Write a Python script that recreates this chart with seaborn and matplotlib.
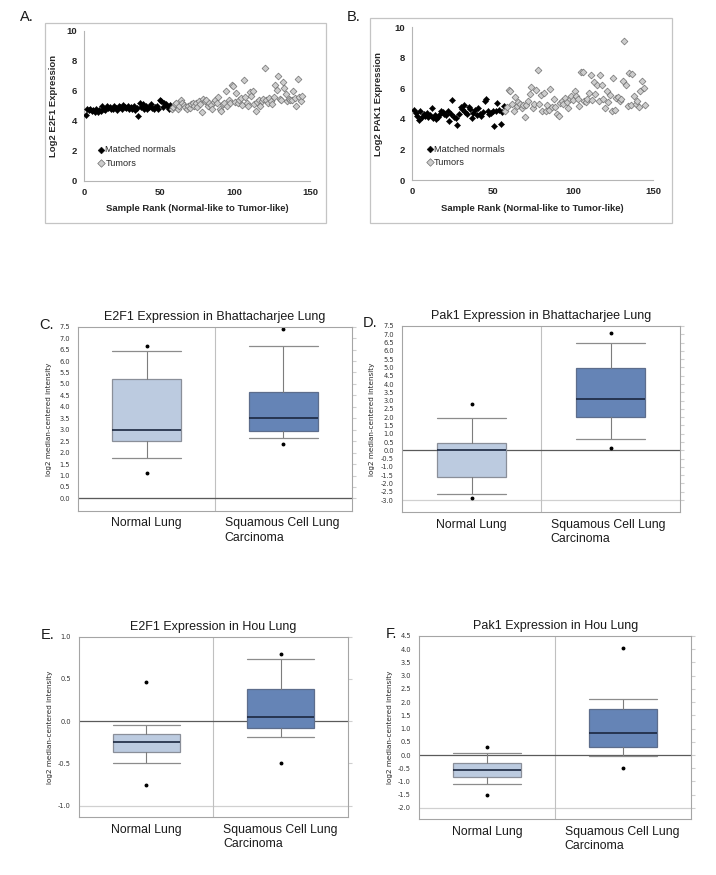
import numpy as np
import seaborn as sns
import matplotlib.pyplot as plt
from matplotlib.patches import Rectangle

# ---- panels A / B : sample rank scatter (log2 expression) ----
a_normal = [4.4, 4.75, 4.7, 4.8, 4.65, 4.7, 4.6, 4.75, 4.55, 4.7,
            4.65, 4.95, 4.8, 4.7, 5.0, 4.85, 4.9, 4.75, 4.8, 4.95,
            4.85, 4.7, 4.95, 4.9, 4.8, 5.05, 4.9, 4.85, 4.95, 4.75,
            4.9, 4.8, 5.0, 4.7, 4.85, 4.3, 5.15, 4.9, 5.1, 4.75,
            4.95, 4.8, 4.9, 5.1, 4.85, 4.75, 4.9, 5.0, 4.8, 5.4,
            5.3, 4.9, 5.2, 5.1, 4.95, 4.8, 5.05]
a_tumor = [4.75, 4.9, 5.1, 5.2, 4.8, 5.0, 5.4, 5.2, 5.05, 4.9,
           4.8, 5.0, 4.85, 5.1, 5.15, 4.95, 5.2, 4.9, 5.3, 5.1,
           4.6, 5.45, 5.3, 5.35, 5.0, 5.2, 5.05, 4.75, 5.25, 5.4,
           5.15, 5.6, 4.8, 4.65, 5.1, 5.2, 5.95, 5.0, 5.35, 5.15,
           6.4, 6.3, 5.25, 5.85, 5.2, 5.35, 5.5, 5.05, 6.7, 5.6,
           5.2, 5.0, 5.9, 5.65, 6.0, 5.1, 4.65, 5.25, 5.4, 5.0,
           5.3, 5.45, 7.5, 5.35, 5.2, 5.5, 5.3, 5.1, 5.6, 6.4,
           6.05, 7.0, 5.45, 5.35, 6.55, 6.2, 5.8, 5.3, 5.45, 5.4,
           5.35, 6.0, 5.5, 5.0, 6.75, 5.55, 5.3, 5.65]
b_normal = [4.6, 4.4, 4.2, 3.95, 4.5, 4.1, 4.3, 4.2, 4.4, 4.15,
            4.25, 4.7, 4.05, 4.25, 4.0, 4.1, 4.35, 4.55, 4.45, 4.3,
            4.25, 4.5, 3.85, 4.35, 5.25, 4.1, 4.05, 3.6, 4.3, 4.8,
            4.65, 4.9, 4.45, 4.3, 4.75, 4.65, 4.05, 4.4, 4.6, 4.25,
            4.7, 4.3, 4.2, 4.45, 5.2, 5.3, 4.55, 4.35, 4.4, 4.5,
            3.55, 4.5, 5.05, 4.6, 3.65, 4.45, 4.85]
b_tumor = [4.55, 4.8, 5.9, 5.8, 5.0, 4.5, 5.45, 4.85, 5.1, 4.95,
           4.7, 4.9, 4.1, 4.9, 5.2, 5.6, 6.1, 4.7, 5.0, 5.9,
           7.2, 4.95, 5.55, 4.5, 5.7, 4.55, 4.9, 4.6, 5.95, 4.75,
           5.3, 4.8, 4.35, 4.2, 5.05, 5.2, 4.95, 5.4, 5.1, 4.7,
           5.3, 5.5, 5.25, 5.8, 5.5, 5.3, 4.85, 7.1, 7.05, 5.2,
           5.1, 5.3, 5.7, 6.85, 5.25, 6.45, 5.6, 6.25, 5.2, 6.9,
           6.25, 5.3, 4.7, 5.8, 5.1, 5.55, 4.5, 6.7, 4.6, 5.4,
           5.45, 5.2, 5.3, 6.5, 9.1, 6.2, 4.85, 7.0, 4.9, 6.95,
           5.5, 4.95, 5.2, 4.8, 5.85, 6.5, 6.05, 4.9]

# ---- panels C-F : box stats [whisker low, q1, median, q3, whisker high, min, max] ----
box_groups = ['Normal Lung', 'Squamous Cell Lung\nCarcinoma']
c_normal = [1.75, 2.5, 3.0, 5.2, 6.45, 1.1, 6.65]
c_tumor = [2.65, 2.93, 3.5, 4.63, 6.67, 2.37, 7.4]
d_normal = [-2.65, -1.6, 0.0, 0.45, 1.93, -2.9, 2.8]
d_tumor = [0.7, 2.02, 3.12, 4.95, 6.48, 0.12, 7.05]
e_normal = [-0.49, -0.37, -0.25, -0.15, -0.05, -0.75, 0.46]
e_tumor = [-0.19, -0.08, 0.05, 0.38, 0.74, -0.49, 0.8]
f_normal = [-1.08, -0.82, -0.57, -0.3, 0.08, -1.52, 0.32]
f_tumor = [-0.02, 0.3, 0.85, 1.73, 2.12, -0.48, 4.05]

sns.set_style('white')
plt.rcParams['font.family'] = ['Liberation Sans', 'DejaVu Sans']
plt.rcParams['axes.unicode_minus'] = False

W, H = 716, 875
fig = plt.figure(figsize=(W / 100, H / 100), dpi=100)


def rect(x0, y0, x1, y1):
    return [x0 / W, 1 - y1 / H, (x1 - x0) / W, (y1 - y0) / H]


def rank_panel(box, frame, normal, tumor, ylabel, ylab_x):
    ax = fig.add_axes(rect(*box))
    fx0, fy0, fx1, fy1 = frame
    fig.add_artist(Rectangle((fx0 / W, 1 - fy1 / H), (fx1 - fx0) / W, (fy1 - fy0) / H,
                             transform=fig.transFigure, fill=False,
                             edgecolor='#c4c4c4', lw=0.9))
    n_rank = np.arange(1, len(normal) + 1)
    t_rank = np.arange(len(normal) + 1, len(normal) + len(tumor) + 1)
    sns.scatterplot(x=n_rank, y=normal, ax=ax, marker='D', s=10, color='black',
                    edgecolor='black', linewidth=0.3, label='Matched normals', zorder=3)
    sns.scatterplot(x=t_rank, y=tumor, ax=ax, marker='D', s=12, color='#cdcdcd',
                    edgecolor='#707070', linewidth=0.5, label='Tumors', zorder=3)
    ax.set_xlim(0, 150)
    ax.set_ylim(0, 10)
    ax.set_xticks([0, 50, 100, 150])
    ax.set_yticks([0, 2, 4, 6, 8, 10])
    ax.tick_params(labelsize=6.8, length=3, color='#b5b5b5', width=0.8, pad=2)
    for lab in ax.get_xticklabels() + ax.get_yticklabels():
        lab.set_fontweight('bold')
    for s in ['top', 'right']:
        ax.spines[s].set_visible(False)
    for s in ['left', 'bottom']:
        ax.spines[s].set_color('#b5b5b5')
        ax.spines[s].set_linewidth(0.8)
    ax.set_xlabel('Sample Rank (Normal-like to Tumor-like)', fontsize=6.8, fontweight='bold')
    ax.set_ylabel(ylabel, fontsize=6.8, fontweight='bold')
    ax.xaxis.set_label_coords(0.5, -0.155)
    ax.yaxis.set_label_coords(ylab_x, 0.5)
    ax.legend(loc='lower left', bbox_to_anchor=(0.035, 0.045), frameon=False,
              fontsize=6.6, handlelength=0.6, handletextpad=0.15,
              labelspacing=0.45, borderpad=0.2, markerscale=1.1)
    return ax


def box_panel(box, normal, tumor, title, ylim, yticks, ylab_px):
    ax = fig.add_axes(rect(*box))
    stats = []
    for vals in (normal, tumor):
        lo, q1, med, q3, hi, mn, mx = vals
        stats.append(dict(whislo=lo, q1=q1, med=med, q3=q3, whishi=hi, fliers=[mn, mx]))
    bp = ax.bxp(stats, positions=[0, 1], widths=0.5, capwidths=[0.5, 0.5],
                patch_artist=True, showfliers=True,
                boxprops=dict(linewidth=0.9),
                whiskerprops=dict(color='#7d7d7d', linewidth=0.8),
                capprops=dict(color='#8c8c8c', linewidth=0.9),
                medianprops=dict(color='#1b2740', linewidth=1.2),
                flierprops=dict(marker='o', markersize=1.8, markerfacecolor='black',
                                markeredgecolor='black'))
    for patch, fc, ec in zip(bp['boxes'], ['#bccbe0', '#6584b6'], ['#8a8f99', '#5d6d8c']):
        patch.set_facecolor(fc)
        patch.set_edgecolor(ec)
        patch.set_zorder(2)
    ax.axhline(0, color='#5a5a5a', lw=0.9, zorder=1)
    ax.axhline(yticks[0], color='#d0d0d0', lw=0.9, zorder=0.5)
    ax.axvline(0.5, color='#c0c0c0', lw=0.8, zorder=0.5)
    ax.set_xlim(-0.5, 1.5)
    ax.set_ylim(*ylim)
    ax.set_xticks([])
    ax.set_yticks(yticks)
    ax.set_yticklabels([f'{t:.1f}' for t in yticks], fontfamily='DejaVu Sans')
    ax.tick_params(axis='y', labelsize=4.8, left=False, right=True, labelright=False,
                   length=3, color='#cfcfcf', pad=3, labelcolor='#333333')
    for s in ax.spines.values():
        s.set_color('#a5a5a5')
        s.set_linewidth(0.8)
    ax.set_title(title, fontsize=9, pad=5, color='#1a1a1a')
    ax.set_ylabel('log2 median-centered intensity', fontsize=5.2, fontfamily='DejaVu Sans')
    ax.yaxis.set_label_coords((ylab_px - box[0]) / (box[2] - box[0]), 0.5)
    ax.text(0.25, -0.035, box_groups[0], transform=ax.transAxes, ha='center', va='top',
            fontsize=8.8, color='#1a1a1a')
    ax.text(0.535, -0.035, box_groups[1], transform=ax.transAxes, ha='left', va='top',
            fontsize=8.8, color='#1a1a1a', linespacing=1.25)
    return ax


rank_panel((84.3, 30.7, 310, 180.7), (45, 22.7, 326, 223.3), a_normal, a_tumor,
           'Log2 E2F1 Expression', -0.117)
rank_panel((412.3, 27.3, 653.3, 180), (370, 18.3, 672, 223.3), b_normal, b_tumor,
           'Log2 PAK1 Expression', -0.123)

box_panel((78.3, 326.7, 351.7, 511), c_normal, c_tumor,
          'E2F1 Expression in Bhattacharjee Lung', (-0.55, 7.5),
          list(np.arange(0, 7.51, 0.5)), 52)
box_panel((402.3, 326, 680, 512.3), d_normal, d_tumor,
          'Pak1 Expression in Bhattacharjee Lung', (-3.74, 7.5),
          list(np.arange(-3.0, 7.51, 0.5)), 375)
box_panel((79.3, 636.7, 347.7, 817.3), e_normal, e_tumor,
          'E2F1 Expression in Hou Lung', (-1.137, 1.0),
          [-1.0, -0.5, 0.0, 0.5, 1.0], 53)
box_panel((419.3, 636, 691, 819.3), f_normal, f_tumor,
          'Pak1 Expression in Hou Lung', (-2.43, 4.5),
          list(np.arange(-2.0, 4.51, 0.5)), 393)

for letter, x, y in [('A.', 20, 17), ('B.', 347, 17), ('C.', 39, 325),
                     ('D.', 363, 323), ('E.', 41, 635), ('F.', 386, 634)]:
    fig.text(x / W, 1 - y / H, letter, ha='left', va='center', fontsize=10.5, color='#1a1a1a')

fig.savefig('out.png', dpi=100)
